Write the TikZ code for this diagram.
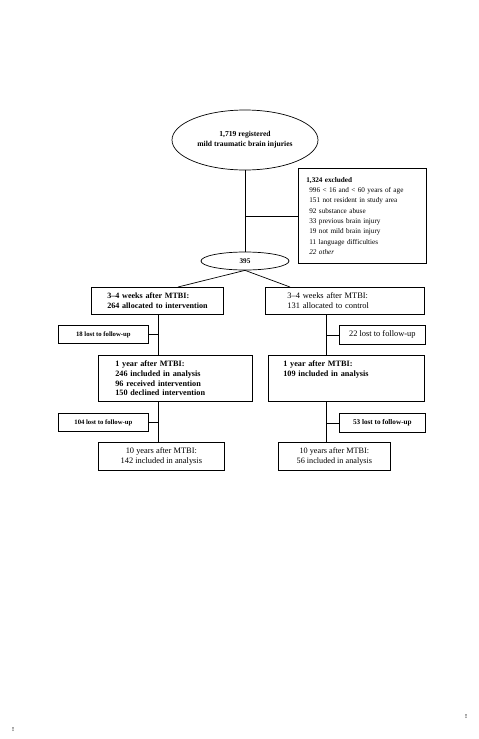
\documentclass[tikz,border=0pt]{standalone}
\usepackage{fontspec}
\setmainfont{Liberation Serif}
\usetikzlibrary{shapes.geometric,calc}
\newcommand{\fs}[1]{\fontsize{#1}{9.8}\selectfont}
\begin{document}
\begin{tikzpicture}[x=1pt,y=-1pt,
  every node/.style={font=\fs{7.2}},
  box/.style={draw,line width=0.7pt,rectangle,anchor=north west,inner ysep=0pt},
  oval/.style={draw,line width=0.7pt,ellipse,inner sep=0pt},
  link/.style={line width=0.7pt}]
\path[use as bounding box] (0,0) rectangle (479,739);

\node[oval,minimum width=146pt,minimum height=60pt,align=center,font=\fs{7.6}\bfseries] (top) at (245,140) {1,719 registered\\mild traumatic brain injuries};

\node[box,minimum width=128pt,minimum height=95pt,text width=112pt,inner xsep=8pt,align=left,font=\fontsize{7.2}{10.3}\selectfont] (excl) at (298,168)
{\textbf{1,324 excluded}\\
\hspace*{3pt}996 < 16 and < 60 years of age\\
\hspace*{3pt}151 not resident in study area\\
\hspace*{3pt}92 substance abuse\\
\hspace*{3pt}33 previous brain injury\\
\hspace*{3pt}19 not mild brain injury\\
\hspace*{3pt}11 language difficulties\\
\hspace*{3pt}\textit{22 other}};

\node[oval,minimum width=88pt,minimum height=18pt,font=\fs{7.2}\bfseries] (n395) at (245,261) {395};

\node[box,minimum width=132pt,minimum height=27pt,text width=124pt,inner xsep=4pt,align=left,font=\fs{8.1}\bfseries] (A) at (91,287) {\hspace*{12pt}3--4 weeks after MTBI:\\\hspace*{12pt}264 allocated to intervention};
\node[box,minimum width=159pt,minimum height=27pt,text width=115pt,inner xsep=22pt,align=left,font=\fs{8.4}] (B) at (265,287) {3--4 weeks after MTBI:\\131 allocated to control};

\node[box,minimum width=90pt,minimum height=18pt,align=center,font=\fs{6.7}\bfseries] (l18) at (58,325) {18 lost to follow-up};
\node[box,minimum width=86pt,minimum height=19pt,align=center,font=\fs{8.4}] (l22) at (339,325) {22 lost to follow-up};

\node[box,minimum width=154pt,minimum height=46pt,text width=120pt,inner xsep=17pt,align=left,font=\fs{8.2}\bfseries] (C) at (98,355) {1 year after MTBI:\\246 included in analysis\\96 received intervention\\150 declined intervention};
\node[box,minimum width=156pt,minimum height=46pt,text width=126pt,inner xsep=15pt,align=left,font=\fs{8.2}\bfseries] (D) at (268,355) {1 year after MTBI:\\109 included in analysis\\~\\~};

\node[box,minimum width=90pt,minimum height=18pt,align=center,font=\fs{6.7}\bfseries] (l104) at (58,413) {104 lost to follow-up};
\node[box,minimum width=86pt,minimum height=19pt,align=center,font=\fs{7.2}\bfseries] (l53) at (339,413) {53 lost to follow-up};

\node[box,minimum width=126pt,minimum height=28pt,align=center,font=\fontsize{8.4}{10.5}\selectfont] (E) at (98,442) {10 years after MTBI:\\142 included in analysis};
\node[box,minimum width=112pt,minimum height=28pt,align=center,font=\fontsize{8.2}{10.5}\selectfont] (F) at (278,442) {10 years after MTBI:\\56 included in analysis};

\node[font=\fontsize{6}{6}\selectfont\bfseries] (m1) at (466,717) {!};
\node[font=\fontsize{6}{6}\selectfont\bfseries] (m2) at (13,730) {!};

\coordinate (lc) at (158,0);
\coordinate (rc) at (326,0);
\coordinate (aj) at (178,287);
\coordinate (bj) at (290,287);

\draw[link] (top.south) -- (n395.north);
\draw[link] (top.south |- excl.west) -- (excl.west);
\draw[link] (n395.south) -- (aj);
\draw[link] (n395.south) -- (bj);

\draw[link] (lc |- A.south) -- (lc |- C.north);
\draw[link] (l18.east) -- (lc |- l18.east);
\draw[link] (lc |- C.south) -- (lc |- E.north);
\draw[link] (l104.east) -- (lc |- l104.east);

\draw[link] (rc |- B.south) -- (rc |- D.north);
\draw[link] (l22.west) -- (rc |- l22.west);
\draw[link] (rc |- D.south) -- (rc |- F.north);
\draw[link] (l53.west) -- (rc |- l53.west);
\end{tikzpicture}
\end{document}
